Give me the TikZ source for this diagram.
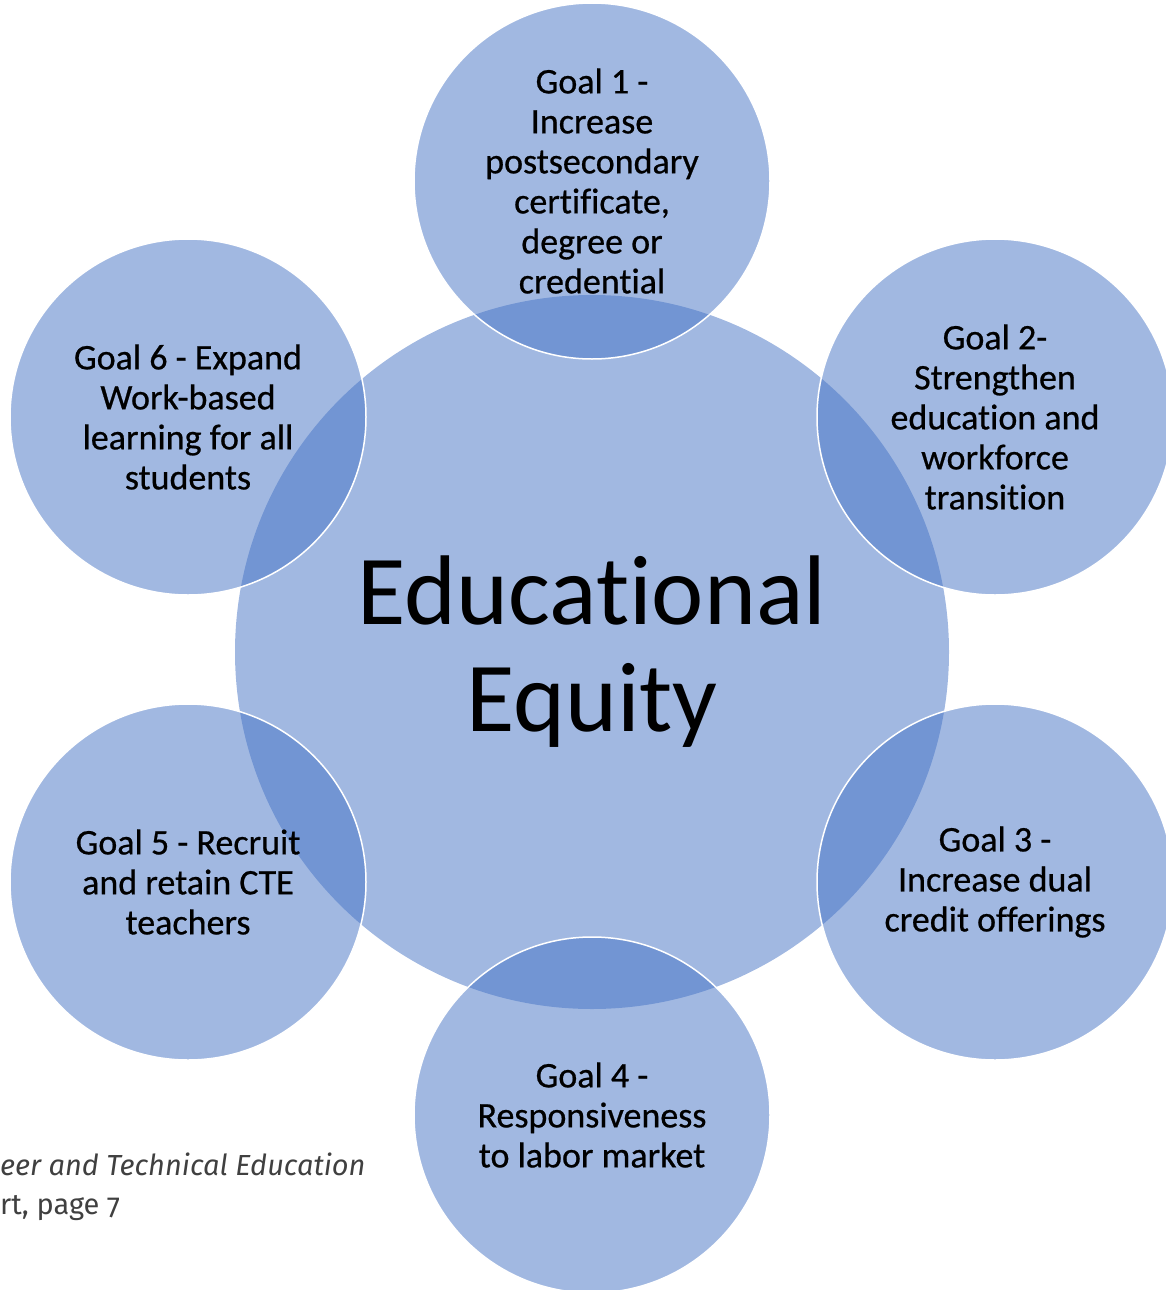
\documentclass[tikz,border=0pt]{standalone}
\usepackage{fontspec}
\setmainfont[Ligatures=NoCommon]{Carlito}
\newfontfamily\goalfont[Ligatures=NoCommon, FakeBold=0.6]{Carlito}
\newfontfamily\notefont[Numbers=OldStyle]{Fira Sans}
\definecolor{goalblue}{RGB}{68,114,196}
\definecolor{notegray}{RGB}{64,64,64}
\begin{document}
\begin{tikzpicture}[x=1pt,y=-1pt]
                          \tikzstyle{every node}+=[inner sep=0pt, align=center, text=black]
                          \tikzstyle{ring}=[circle, fill=goalblue, fill opacity=0.5, text opacity=1]
                          \tikzstyle{goal}=[ring, draw=white, line width=1.5pt, minimum size=356pt, font=\goalfont\fontsize{36}{40}\selectfont]
                          \useasboundingbox (0,0) rectangle (1165,1290);
                          \node [ring, minimum size=714pt, font=\fontsize{99}{107}\selectfont] (equity) at (592,652) {Educational\\Equity};
                          \node [goal] (goal1) at (592,181) {Goal 1 -\\Increase\\postsecondary\\certificate,\\degree or\\credential};
                          \node [goal] (goal2) at (995,417) {Goal 2-\\Strengthen\\education and\\workforce\\transition};
                          \node [goal] (goal3) at (995,882) {Goal 3 -\\Increase dual\\credit offerings};
                          \node [goal] (goal4) at (592,1115) {Goal 4 -\\Responsiveness\\to labor market};
                          \node [goal] (goal5) at (188,882) {Goal 5 - Recruit\\and retain CTE\\teachers};
                          \node [goal] (goal6) at (188,417) {Goal 6 - Expand\\Work-based\\learning for all\\students};
                          \node [anchor=north west, align=left, text=notegray, font=\notefont\fontsize{29}{39}\selectfont] (source) at (0,1153) {\itshape eer and Technical Education\\\upshape rt, page 7};
                      \end{tikzpicture}
\end{document}
